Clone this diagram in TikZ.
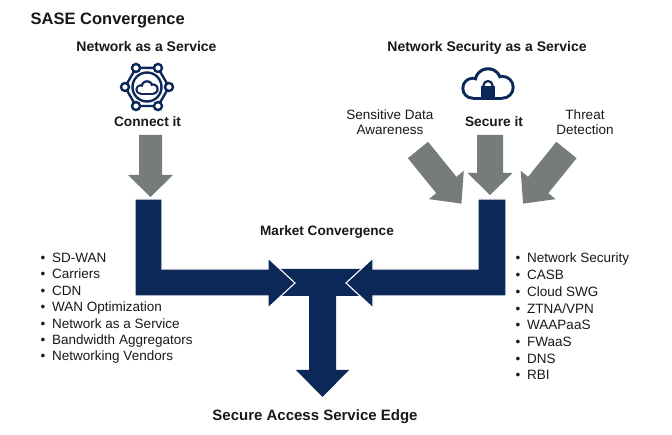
\documentclass[tikz,border=0pt]{standalone}
\usepackage{fontspec}
\setmainfont{Liberation Sans}
\definecolor{navy}{RGB}{12,40,88}
\definecolor{garr}{RGB}{118,124,124}
\definecolor{txt}{RGB}{25,25,25}

% gray block arrow: #1,#2 start (shaft top middle), #3 angle, #4 shaft length, #5 shaft half width, #6 head length
\newcommand\grayarr[6]{%
  \fill[garr, shift={(#1,#2)}, rotate=#3] (0,-#5) -- (#4,-#5) -- (#4,-22.5) -- ({#4+#6},0) -- (#4,22.5) -- (#4,#5) -- (0,#5) -- cycle;}

% cloud outline: #1,#2 centre, #3 scale, #4 half stroke (local units)
\newcommand\mycloud[4]{%
  \begin{scope}[shift={(#1,#2)}, scale=#3]
    \fill[navy] (-16,5) circle[radius=10.5+#4];
    \fill[navy] (0,-2) circle[radius=13.5+#4];
    \fill[navy] (15,4) circle[radius=11.5+#4];
    \fill[navy] (-16,0) rectangle (15,{15.5+#4});
    \fill[white] (-16,5) circle[radius=10.5-#4];
    \fill[white] (0,-2) circle[radius=13.5-#4];
    \fill[white] (15,4) circle[radius=11.5-#4];
    \fill[white] (-16,0) rectangle (15,{15.5-#4});
  \end{scope}}

\begin{document}
\begin{tikzpicture}[x=1pt,y=-1pt,
  lbl/.style={inner sep=0pt, anchor=base, text=txt},
  btxt/.style={lbl, font={\fontsize{#1}{#1}\selectfont\bfseries}},
  rtxt/.style={lbl, font={\fontsize{13.5}{15}\selectfont}},
  item/.style={inner sep=0pt, anchor=base west, text=txt, font={\fontsize{13.5}{15}\selectfont}},
  iconline/.style={draw=navy, line width=2.4pt},
  blueshape/.style={fill=navy},
  bluearrow/.style={fill=navy, draw=white, line width=1.1pt, line join=miter}]

\fill[white] (0,0) rectangle (672,435);
\useasboundingbox (0,0) rectangle (672,435);

% ---------- titles ----------
\node[btxt=16.5, anchor=base west] (title) at (30.5,24.5) {SASE Convergence};
\node[btxt=14] (naas) at (146.5,51.5) {Network as a Service};
\node[btxt=14] (nsaas) at (487,51.5) {Network Security as a Service};
\node[btxt=13.7] (connect) at (147.5,127) {Connect it};
\node[btxt=13.7] (secure) at (494,127) {Secure it};
\node[rtxt] (sda1) at (390,120) {Sensitive Data};
\node[rtxt] (sda2) at (390,134.7) {Awareness};
\node[rtxt] (thr1) at (585,120) {Threat};
\node[rtxt] (thr2) at (585,134.7) {Detection};
\node[btxt=13.6] (market) at (327,236) {Market Convergence};
\node[btxt=15] (sase) at (315,420.5) {Secure Access Service Edge};

% ---------- icons ----------
\begin{scope}[shift={(147,87)}]
  \draw[iconline, line join=round] (0:22) -- (60:22) -- (120:22) -- (180:22) -- (240:22) -- (300:22) -- cycle;
  \foreach \a in {0,60,...,300} \draw[iconline, fill=white] (\a:22) circle[radius=4];
  \draw[iconline] (0,0) circle[radius=14.5];
\end{scope}
\mycloud{147}{87.5}{0.4}{2.8}

\mycloud{488}{83.5}{0.95}{1.6}
\fill[navy] (481,86) rectangle (495,97.5);
\draw[navy, line width=2.2pt] (483.5,87) -- (483.5,85.5) arc[start angle=180, end angle=360, radius=4.5] -- (492.5,87);

% ---------- gray arrows ----------
\grayarr{150.5}{135}{-90}{40}{11.5}{22}
\grayarr{490}{135}{-90}{38}{13}{22}
\grayarr{418}{150}{-51}{45}{13}{24}
\grayarr{566.5}{150}{-129}{45}{13}{24}

% ---------- navy convergence shape ----------
\fill[blueshape] (280,269) -- (361,269) -- (361,296) -- (336,296) -- (336,370) -- (349,370)
  -- (322.5,397) -- (296,370) -- (309,370) -- (309,296) -- (280,296) -- cycle;
\path[bluearrow] (135,199) -- (162,199) -- (162,269) -- (268,269) -- (268,258) -- (295,283)
  -- (268,308) -- (268,296) -- (135,296) -- cycle;
\path[bluearrow] (506,199) -- (478,199) -- (478,269) -- (373,269) -- (373,258) -- (346,283)
  -- (373,308) -- (373,296) -- (506,296) -- cycle;

% ---------- lists ----------
\foreach \t [count=\i from 0] in {SD-WAN, Carriers, CDN, WAN Optimization, Network as a Service, Bandwidth Aggregators, Networking Vendors}
  \node[item] (L\i) at (40.3, 262.5+16.4*\i) {\textbullet\hspace{7pt}\t};
\foreach \t [count=\i from 0] in {Network Security, CASB, Cloud SWG, ZTNA/VPN, WAAPaaS, FWaaS, DNS, RBI}
  \node[item] (R\i) at (515.3, 263+16.7*\i) {\textbullet\hspace{7pt}\t};

\end{tikzpicture}
\end{document}
